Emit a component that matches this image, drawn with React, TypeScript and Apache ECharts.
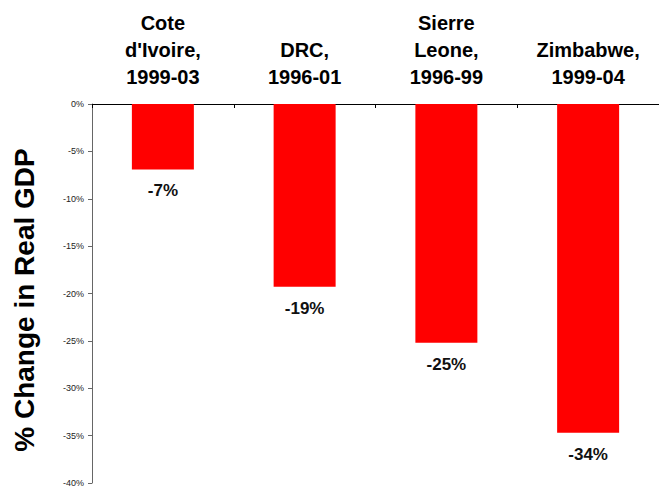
import React, { useEffect, useRef } from "react";
import * as echarts from "echarts";

const categories = [
  "Cote\nd'Ivoire,\n1999-03",
  "DRC,\n1996-01",
  "Sierre\nLeone,\n1996-99",
  "Zimbabwe,\n1999-04",
];
const values = [-6.9, -19.3, -25.2, -34.7];
const valueLabels = ["-7%", "-19%", "-25%", "-34%"];
const yMin = -40;
const yMax = 0;
const yInterval = 5;
const yTitle = "% Change in Real GDP";

const FONT = "'Liberation Sans', Arial, Helvetica, sans-serif";

export default function App() {
  const ref = useRef<HTMLDivElement>(null);
  useEffect(() => {
    if (!ref.current) return;
    const chart = echarts.init(ref.current, null, { renderer: "svg" });
    chart.setOption({
      animation: false,
      backgroundColor: "#ffffff",
      textStyle: { fontFamily: FONT },
      grid: { left: 92, top: 104, width: 576, bottom: 5, containLabel: false },
      graphic: [
        {
          type: "text",
          x: 24,
          y: 300,
          rotation: Math.PI / 2,
          style: {
            text: yTitle,
            fontFamily: FONT,
            fontSize: 28,
            fontWeight: "bold",
            fill: "#000",
            align: "center",
            verticalAlign: "middle",
          },
        },
      ],
      xAxis: {
        type: "category",
        position: "top",
        data: categories,
        axisLine: { show: true, lineStyle: { color: "#000", width: 1 } },
        axisTick: { show: true, inside: true, length: 4, lineStyle: { color: "#000" } },
        axisLabel: {
          interval: 0,
          fontFamily: FONT,
          fontSize: 20,
          fontWeight: "bold",
          lineHeight: 27,
          margin: 14,
          color: "#000",
        },
        splitLine: { show: false },
      },
      yAxis: {
        type: "value",
        min: yMin,
        max: yMax,
        interval: yInterval,
        axisLine: { show: true, lineStyle: { color: "#666", width: 1 } },
        axisTick: { show: true, inside: false, length: 4, lineStyle: { color: "#666" } },
        axisLabel: {
          formatter: "{value}%",
          fontFamily: FONT,
          fontSize: 9,
          margin: 8,
          color: "#222",
        },
        splitLine: { show: false },
      },
      series: [
        {
          type: "bar",
          data: values,
          barWidth: 62,
          itemStyle: { color: "#ff0000" },
          label: {
            show: true,
            position: "bottom",
            distance: 13,
            fontFamily: FONT,
            fontSize: 17,
            fontWeight: "bold",
            color: "#111",
            formatter: (p: any) => valueLabels[p.dataIndex],
          },
        },
      ],
    });
    return () => chart.dispose();
  }, []);
  return (
    <div
      ref={ref}
      style={{ position: "fixed", left: 0, top: 0, width: 659, height: 488, background: "#fff" }}
    />
  );
}
